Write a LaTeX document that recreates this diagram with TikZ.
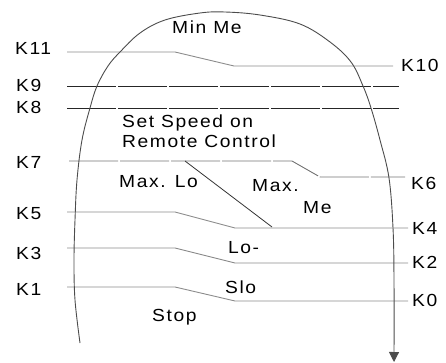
\documentclass[tikz,border=0pt]{standalone}
\usepackage{fontspec}
\setmainfont{Liberation Sans}[FakeStretch=1.1,LetterSpace=9]
\usetikzlibrary{arrows.meta}
\begin{document}
\begin{tikzpicture}[x=1pt,y=-1pt,
  lbl/.style={anchor=base west,inner sep=0pt,font=\fontsize{17.5}{20}\selectfont},
  glineA/.style={draw=black!45,line width=0.9pt},
  dline/.style={draw=black!85,line width=0.9pt,dash pattern=on 49pt off 2pt},
  gdline/.style={draw=black!55,line width=0.9pt,dash pattern=on 49pt off 2pt},
  curve/.style={draw=black!70,line width=0.9pt},
  diag/.style={draw=black!80,line width=0.8pt}]
\useasboundingbox (0,0) rectangle (446,363);
% labels left
\node[lbl] (k11) at (15,55) {K11};
\node[lbl] (k9) at (16,91.5) {K9};
\node[lbl] (k8) at (16,113.5) {K8};
\node[lbl] (k7) at (16,169) {K7};
\node[lbl] (k5) at (16,219.5) {K5};
\node[lbl] (k3) at (16,259.5) {K3};
\node[lbl] (k1) at (16,295.5) {K1};
% labels right
\node[lbl] (k10) at (401,71.5) {K10};
\node[lbl] (k6) at (411,189.5) {K6};
\node[lbl] (k4) at (412,234.5) {K4};
\node[lbl] (k2) at (412,268.5) {K2};
\node[lbl] (k0) at (412,306.5) {K0};
% region texts
\node[lbl] (minme) at (172,33.5) {Min Me};
\node[lbl] (ss) at (122,128) {Set Speed on};
\node[lbl] (rc) at (122,148) {Remote Control};
\node[lbl] (maxlo) at (119,188) {Max. Lo};
\node[lbl] (maxme) at (252,191) {Max.};
\node[lbl] (me) at (303,213) {Me};
\node[lbl] (lo) at (228,253) {Lo-};
\node[lbl] (slo) at (225,293) {Slo};
\node[lbl] (stop) at (152,321) {Stop};
% line end coordinates
\coordinate (a11) at (67,52);   \coordinate (b10) at (393,66);
\coordinate (a9) at (67,86);    \coordinate (b9) at (399,86);
\coordinate (a8) at (67,108);   \coordinate (b8) at (399,108);
\coordinate (a7) at (69,161);   \coordinate (b6) at (405,177);
\coordinate (a5) at (67,212);   \coordinate (b4) at (408,228);
\coordinate (a3) at (67,248);   \coordinate (b2) at (408,263);
\coordinate (a1) at (67,287);   \coordinate (b0) at (408,301);
\coordinate (d1) at (185,161);  \coordinate (d2) at (272,227);
% lines
\draw[glineA] (a11) -- (175,52) -- (234,66) -- (b10);
\draw[dline] (a9) -- (b9);
\draw[dline] (a8) -- (b8);
\draw[gdline] (a7) -- (292,161) -- (320,177) -- (b6);
\draw[diag] (d1) -- (d2);
\draw[glineA] (a5) -- (175,212) -- (235,228) -- (b4);
\draw[glineA] (a3) -- (175,248) -- (235,263) -- (b2);
\draw[glineA] (a1) -- (175,287) -- (235,301) -- (b0);
% curve
\coordinate (cstart) at (80,343);
\coordinate (cend) at (394,362);
\draw[curve,-{Triangle[width=10pt,length=10pt]}] plot[smooth,tension=0.6] coordinates {
 (80,343) (75,300) (74,260) (75,220) (77,180) (82,140) (90,108) (97,86) (108,66) (120,52)
 (140,33) (165,20) (200,13) (225,12) (260,15) (300,24) (330,42) (351,62) (363,86) (371,108)
 (380,140) (389,178) (393,228) (394,280) (394,362)};
\end{tikzpicture}
\end{document}
